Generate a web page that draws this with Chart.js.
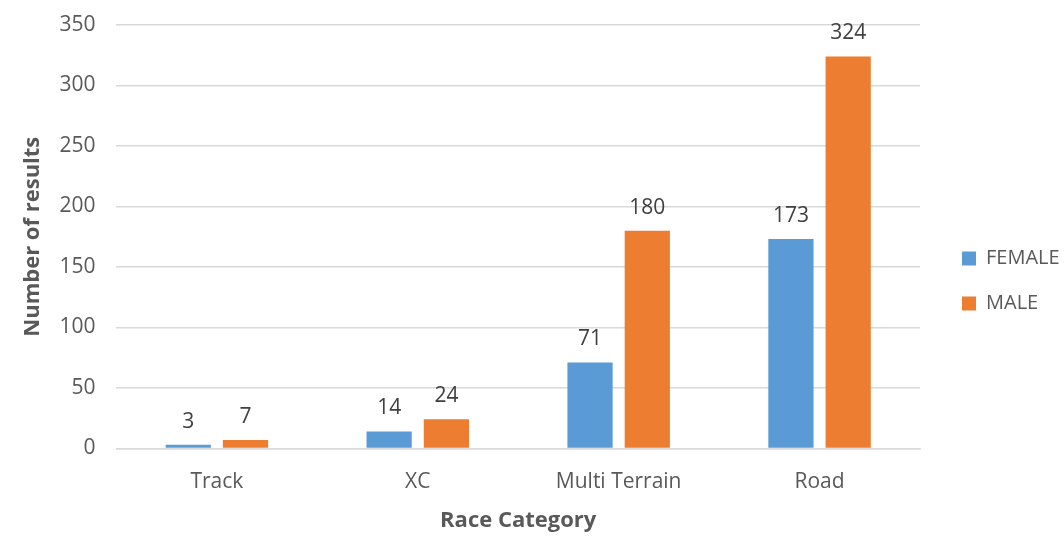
<!DOCTYPE html>
<html>
<head>
<meta charset="utf-8">
<script src="https://cdn.jsdelivr.net/npm/chart.js@4"></script>
<style>
  html, body { margin: 0; padding: 0; background: #fff; }
  #wrap { width: 1064px; height: 541px; }
</style>
</head>
<body>
<div id="wrap"><canvas id="chart"></canvas></div>
<script>
// --- Data --- //
const categories = ['Track', 'XC', 'Multi Terrain', 'Road'];
const femaleValues = [3, 14, 71, 173];
const maleValues = [7, 24, 180, 324];
const seriesNames = ['FEMALE', 'MALE'];

const textColor = '#595959';
const gridColor = '#d9d9d9';
const legendWidth = 144; // total room kept for the legend on the right
const legendShiftX = 17; // empty space between plot and legend items
const legendShiftY = 12;

// Draws the value above each bar
const valueLabels = {
    id: 'valueLabels',
    afterDatasetsDraw(chart) {
        const ctx = chart.ctx;
        ctx.save();
        ctx.font = '21px "Open Sans"';
        ctx.fillStyle = '#404040';
        ctx.textAlign = 'center';
        ctx.textBaseline = 'middle';
        chart.data.datasets.forEach((ds, i) => {
            chart.getDatasetMeta(i).data.forEach((bar, j) => {
                ctx.fillText(ds.data[j], bar.x, bar.y - 23);
            });
        });
        ctx.restore();
    }
};

// Fixes the legend box width and moves its items, leaving a gap after the plot
const legendSpacer = {
    id: 'legendSpacer',
    beforeLayout(chart) {
        const lg = chart.legend;
        if (lg && !lg._spaced) {
            const fit = lg.fit.bind(lg);
            lg.fit = function () {
                fit();
                this.width = legendWidth;
            };
            lg._spaced = true;
        }
    },
    afterLayout(chart) {
        chart.legend.left += legendShiftX;
        chart.legend.top += legendShiftY;
        chart.legend.bottom += legendShiftY;
    }
};

new Chart(document.getElementById('chart'), {
    type: 'bar',
    data: {
        labels: categories,
        datasets: [{
            label: seriesNames[0],
            data: femaleValues,
            backgroundColor: '#5b9bd5',
            categoryPercentage: 0.57,
            barPercentage: 0.79
        }, {
            label: seriesNames[1],
            data: maleValues,
            backgroundColor: '#ed7d31',
            categoryPercentage: 0.57,
            barPercentage: 0.79
        }]
    },
    options: {
        responsive: true,
        maintainAspectRatio: false,
        animation: false,
        layout: { padding: { top: 0, left: 20, right: 0, bottom: 3 } },
        scales: {
            y: {
                min: 0,
                max: 350,
                ticks: {
                    stepSize: 50,
                    color: textColor,
                    padding: 21,
                    font: { family: 'Open Sans', size: 21 }
                },
                grid: { color: gridColor, lineWidth: 1.5, drawTicks: false },
                border: { display: false },
                title: {
                    display: true,
                    text: 'Number of results',
                    color: textColor,
                    font: { family: 'Open Sans', size: 22, weight: 'bold' },
                    padding: { top: 0, bottom: -8 }
                },
                // keep the top label overflow small so 350 sits near the top
                afterFit(scale) {
                    scale.paddingTop = 25;
                }
            },
            x: {
                ticks: {
                    color: textColor,
                    padding: 13,
                    font: { family: 'Open Sans', size: 21 }
                },
                grid: { display: false },
                border: { color: gridColor, width: 1.5 },
                title: {
                    display: true,
                    text: 'Race Category',
                    color: textColor,
                    font: { family: 'Open Sans', size: 22, weight: 'bold' },
                    padding: { top: 0 }
                }
            }
        },
        plugins: {
            legend: {
                position: 'right',
                labels: {
                    color: textColor,
                    boxWidth: 14,
                    boxHeight: 14,
                    padding: 25,
                    font: { family: 'Open Sans', size: 20 }
                }
            },
            tooltip: { enabled: false }
        }
    },
    plugins: [valueLabels, legendSpacer]
});
</script>
</body>
</html>
